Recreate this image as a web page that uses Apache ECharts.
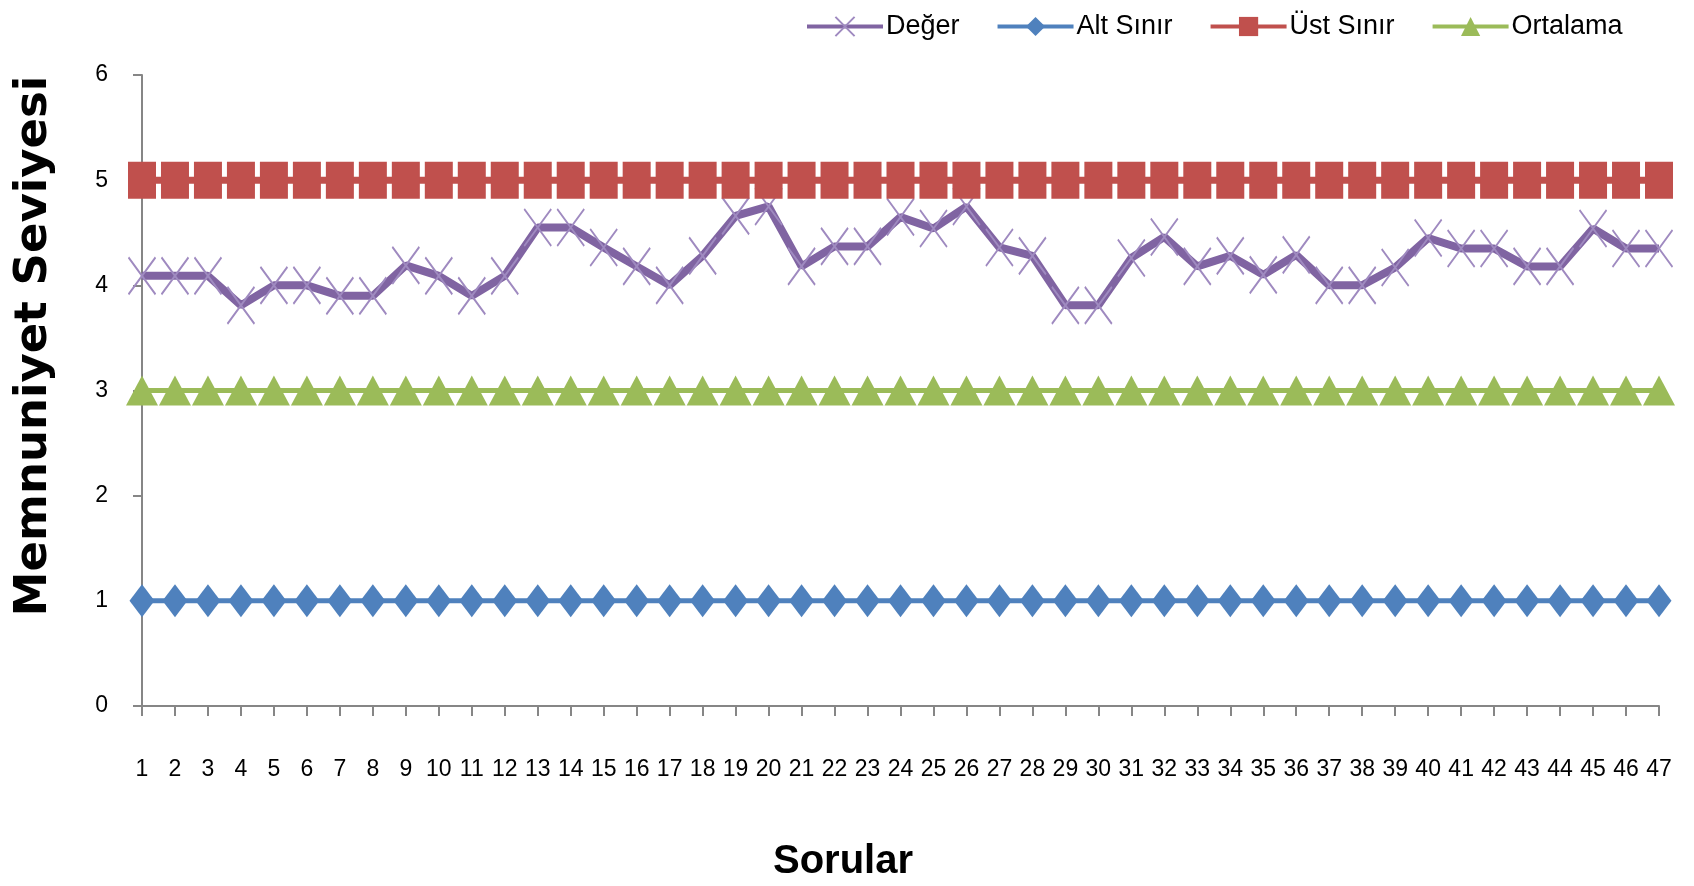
<!DOCTYPE html>
<html>
<head>
<meta charset="utf-8">
<script src="https://cdn.jsdelivr.net/npm/echarts@6/dist/echarts.min.js"></script>
<style>
html,body{margin:0;padding:0;background:#fff;}
#chart{width:1694px;height:886px;}
</style>
</head>
<body>
<div id="chart"></div>
<script>
const categories = ['1','2','3','4','5','6','7','8','9','10','11','12','13','14','15','16','17','18','19','20','21','22','23','24','25','26','27','28','29','30','31','32','33','34','35','36','37','38','39','40','41','42','43','44','45','46','47'];
const deger = [4.09,4.09,4.09,3.81,4.0,4.0,3.9,3.9,4.19,4.09,3.9,4.09,4.55,4.55,4.36,4.18,4.0,4.28,4.66,4.75,4.18,4.37,4.37,4.65,4.54,4.75,4.36,4.28,3.81,3.81,4.26,4.46,4.18,4.28,4.1,4.29,4.0,4.0,4.17,4.45,4.35,4.35,4.18,4.18,4.54,4.35,4.35];
const altSinir = [1,1,1,1,1,1,1,1,1,1,1,1,1,1,1,1,1,1,1,1,1,1,1,1,1,1,1,1,1,1,1,1,1,1,1,1,1,1,1,1,1,1,1,1,1,1,1];
const ustSinir = [5,5,5,5,5,5,5,5,5,5,5,5,5,5,5,5,5,5,5,5,5,5,5,5,5,5,5,5,5,5,5,5,5,5,5,5,5,5,5,5,5,5,5,5,5,5,5];
const ortalama = [3,3,3,3,3,3,3,3,3,3,3,3,3,3,3,3,3,3,3,3,3,3,3,3,3,3,3,3,3,3,3,3,3,3,3,3,3,3,3,3,3,3,3,3,3,3,3];
const yTicks = [0,1,2,3,4,5,6];
const seriesNames = ['Değer','Alt Sınır','Üst Sınır','Ortalama'];
const xTitle = 'Sorular';
const yTitle = 'Memnuniyet Seviyesi';

const SANS = "'Liberation Sans',Arial,sans-serif";
const chart = echarts.init(document.getElementById('chart'));
chart.setOption({
  backgroundColor: '#ffffff',
  animation: false,
  grid: {left: 142, right: 35, top: 75, bottom: 180, containLabel: false},
  legend: {
    left: 805, top: 13, padding: 0,
    itemWidth: 76, itemHeight: 24, itemGap: 36,
    data: seriesNames,
    lineStyle: {width: 4},
    textStyle: {fontFamily: SANS, fontSize: 27, color: '#000', padding: [0,0,0,-2]}
  },
  xAxis: {
    type: 'category', data: categories, boundaryGap: false,
    axisLine: {lineStyle: {color: '#868686', width: 2}},
    axisTick: {show: true, length: 10, lineStyle: {color: '#868686', width: 2}},
    axisLabel: {interval: 0, margin: 52, fontFamily: SANS, fontSize: 23, color: '#000'},
    splitLine: {show: false}
  },
  yAxis: {
    type: 'value', min: yTicks[0], max: yTicks[yTicks.length-1], interval: 1,
    axisLine: {show: true, lineStyle: {color: '#868686', width: 2}},
    axisTick: {show: true, length: 9, lineStyle: {color: '#868686', width: 2}},
    axisLabel: {margin: 34, fontFamily: SANS, fontSize: 23, color: '#000'},
    splitLine: {show: false}
  },
  graphic: [
    {type: 'text', x: 843, y: 862, style: {text: xTitle, fontFamily: SANS, fontWeight: 'bold', fontSize: 40, fill: '#000', align: 'center', verticalAlign: 'middle'}},
    {type: 'text', x: 34, y: 346, rotation: Math.PI/2, style: {text: yTitle, fontFamily: "'DejaVu Sans',Verdana,sans-serif", fontWeight: 'bold', fontSize: 45, fill: '#000', align: 'center', verticalAlign: 'middle'}}
  ],
  series: [
    {name: seriesNames[0], type: 'line', data: deger, clip: false,
     symbol: 'path://M0,0L10,10M10,0L0,10', symbolSize: [27, 37], symbolKeepAspect: false,
     itemStyle: {color: '#8064a2', borderColor: '#9f8ac0', borderWidth: 2},
     lineStyle: {color: '#8064a2', width: 8}},
    {name: seriesNames[1], type: 'line', data: altSinir, clip: false,
     symbol: 'diamond', symbolSize: [25, 33],
     itemStyle: {color: '#4f81bd'}, lineStyle: {color: '#4f81bd', width: 5}},
    {name: seriesNames[2], type: 'line', data: ustSinir, clip: false,
     symbol: 'rect', symbolSize: [28, 37],
     itemStyle: {color: '#c0504d'}, lineStyle: {color: '#c0504d', width: 7}},
    {name: seriesNames[3], type: 'line', data: ortalama, clip: false,
     symbol: 'triangle', symbolSize: [32, 30],
     itemStyle: {color: '#9bbb59'}, lineStyle: {color: '#9bbb59', width: 5}}
  ]
});
</script>
</body>
</html>
